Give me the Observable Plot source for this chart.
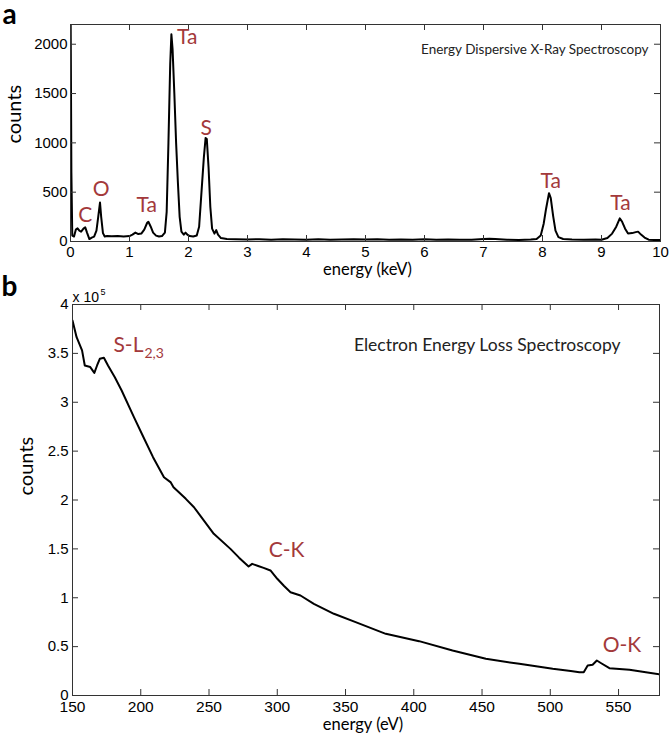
<!DOCTYPE html>
<html>
<head>
<meta charset="utf-8">
<script src="https://cdn.jsdelivr.net/npm/d3@7"></script>
<script src="https://cdn.jsdelivr.net/npm/@observablehq/plot@0.6"></script>
<style>
  html, body { margin: 0; padding: 0; background: white; }
  #wrap { width: 670px; height: 734px; }
  svg { display: block; }
</style>
</head>
<body>
<div id="wrap"><div id="pa"></div><div id="pb"></div></div>
<script>
// ---------- Panel a: EDX spectrum ----------
const edxEnergy = [0.000,0.015,0.03,0.06,0.09,0.12,0.15,0.18,0.22,0.25,0.28,0.32,0.36,0.40,0.44,0.47,0.50,0.52,0.55,0.58,
  0.62,0.70,0.80,0.90,1.00,1.05,1.10,1.15,1.20,1.25,1.30,1.32,1.36,1.40,1.45,1.50,1.55,1.60,1.63,1.66,1.69,1.71,1.73,1.76,
  1.79,1.82,1.85,1.88,1.92,1.95,1.98,2.02,2.08,2.14,2.18,2.22,2.26,2.29,2.31,2.34,2.37,2.40,2.44,2.47,2.50,2.55,2.65,2.80,
  3.0,3.2,3.4,3.6,3.8,4.0,4.2,4.4,4.6,4.8,5.0,5.2,5.4,5.6,5.8,6.0,6.2,6.4,6.6,6.8,7.0,7.1,7.2,7.4,7.6,7.8,7.9,7.97,8.02,
  8.06,8.11,8.14,8.18,8.22,8.27,8.35,8.5,8.7,8.9,9.0,9.1,9.18,9.25,9.31,9.35,9.40,9.45,9.52,9.58,9.62,9.67,9.73,9.8,9.9,10.0];
const edxCounts = [2600,700,60,50,120,133,110,99,130,143,90,25,40,50,110,250,395,250,85,50,
  55,52,55,50,55,70,90,75,80,120,190,200,150,90,60,50,55,90,300,1000,1800,2100,1950,1500,
  1000,600,250,100,70,90,70,55,50,60,150,500,850,1050,1040,750,350,130,80,115,70,35,25,22,
  20,24,18,22,20,17,22,18,21,24,20,22,18,20,17,22,19,21,17,18,25,28,25,18,16,20,25,60,180,
  330,490,440,260,110,45,25,20,18,20,18,35,80,150,235,200,130,80,85,95,100,70,40,18,15,15];
const edxXTicks = [0,1,2,3,4,5,6,7,8,9,10];
const edxYTicks = [0,500,1000,1500,2000];
const edxLabels = ["C","O","Ta","Ta","S","Ta","Ta"];
const edxLabelE = [0.25,0.52,1.29,1.98,2.30,8.14,9.32];
const edxLabelC = [269,532,365,2073,1151,613,390];

// ---------- Panel b: EELS spectrum ----------
const eelsEnergy = [150,153,157,159,163,166,168,170,173,176,181,186,195,202,209,217,222,224,233,239,253.5,265.7,
  272,279,281.6,286,290,295,300,305,309.7,317,326.8,341.5,357.4,379.5,403.9,428.4,452.8,477.3,501.8,515,521.3,
  524.5,527.4,531,534.1,537.3,543.3,558,570,580];
const eelsCounts = [383600,366600,353000,337600,336000,330000,337600,344500,345500,337600,325600,312000,284700,264200,
  243800,223300,218000,213000,201200,192600,165400,150000,141000,132000,134700,132500,130600,127900,119400,112000,
  105700,102300,93800,83600,75000,63100,55600,46000,37500,32400,27300,25000,23800,23800,30700,31500,35800,33000,
  28000,26300,23800,21600];
const eelsXTicks = [150,200,250,300,350,400,450,500,550];
const eelsYTicks = [0,50000,100000,150000,200000,250000,300000,350000,400000];
const eelsLabels = ["C-K","O-K"];
const eelsLabelE = [306.8,552.5];
const eelsLabelC = [148300,51100];

const RED = "#a3393b";
const LABEL_FONT = "Lato, 'Open Sans', sans-serif";
const TICK_FONT = "'Liberation Sans', Arial, sans-serif";

const edx = edxEnergy.map((e, i) => ({e, c: edxCounts[i]}));
const eels = eelsEnergy.map((e, i) => ({e, c: eelsCounts[i]}));
const edxLab = edxLabels.map((t, i) => ({t, e: edxLabelE[i], c: edxLabelC[i]}));
const eelsLab = eelsLabels.map((t, i) => ({t, e: eelsLabelE[i], c: eelsLabelC[i]}));

function inwardTicks(pw, ph, xInner, yInner) {
  const tl = 6, st = "#333";
  return [
    Plot.tickX(xInner, {x: d => d, insetTop: ph - tl, stroke: st}),
    Plot.tickX(xInner, {x: d => d, insetBottom: ph - tl, stroke: st}),
    Plot.tickY(yInner, {y: d => d, insetRight: pw - tl, stroke: st}),
    Plot.tickY(yInner, {y: d => d, insetLeft: pw - tl, stroke: st})
  ];
}

// Panel a geometry
const A = {w: 670, h: 280, mt: 24, ml: 70, mr: 10, mb: 39};
const Apw = A.w - A.ml - A.mr, Aph = A.h - A.mt - A.mb;
const plotA = Plot.plot({
  width: A.w, height: A.h,
  marginTop: A.mt, marginLeft: A.ml, marginRight: A.mr, marginBottom: A.mb,
  style: {fontFamily: TICK_FONT, fontSize: "15px", color: "black", background: "white", overflow: "visible"},
  x: {domain: [0, 10]},
  y: {domain: [0, 2200]},
  marks: [
    Plot.line(edx, {x: "e", y: "c", stroke: "black", strokeWidth: 2, clip: true}),
    ...inwardTicks(Apw, Aph, edxXTicks.slice(1, -1), edxYTicks.slice(1)),
    Plot.frame({stroke: "#333"}),
    Plot.axisX({ticks: edxXTicks, tickSize: 0, tickPadding: 5, label: null, fontSize: 15, tickFormat: d => String(d)}),
    Plot.axisY({ticks: edxYTicks, tickSize: 0, tickPadding: 3, label: null, fontSize: 15, tickFormat: d => String(d)}),
    Plot.text(edxLab, {x: "e", y: "c", text: "t", fill: RED, fontSize: 21, fontFamily: LABEL_FONT, lineAnchor: "middle"}),
    Plot.text(["Energy Dispersive X-Ray Spectroscopy"], {frameAnchor: "top-right", text: d => d, textAnchor: "end", lineAnchor: "middle", dx: -12, dy: 25, fontSize: 13.5, fontFamily: LABEL_FONT, fill: "#222"}),
    Plot.text(["counts"], {frameAnchor: "left", text: d => d, rotate: -90, dx: 14 - A.ml, dy: 143 - (A.mt + Aph / 2), fontSize: 20, fontFamily: LABEL_FONT, lineAnchor: "middle", fill: "black"}),
    Plot.text(["energy (keV)"], {frameAnchor: "bottom", text: d => d, dy: 28, dx: 2, fontSize: 16.5, fontFamily: LABEL_FONT, lineAnchor: "middle", fill: "black"}),
    Plot.text(["a"], {frameAnchor: "top-left", text: d => d, textAnchor: "start", lineAnchor: "middle", dx: 2 - A.ml, dy: -9, fontSize: 28, fontWeight: "bold", fontFamily: LABEL_FONT, fill: "black"})
  ]
});
document.getElementById("pa").append(plotA);

// Panel b geometry
const B = {w: 670, h: 454, mt: 24, ml: 72, mr: 11, mb: 39};
const Bpw = B.w - B.ml - B.mr, Bph = B.h - B.mt - B.mb;
const plotB = Plot.plot({
  width: B.w, height: B.h,
  marginTop: B.mt, marginLeft: B.ml, marginRight: B.mr, marginBottom: B.mb,
  style: {fontFamily: TICK_FONT, fontSize: "15px", color: "black", background: "white", overflow: "visible"},
  x: {domain: [150, 580]},
  y: {domain: [0, 400000]},
  marks: [
    Plot.line(eels, {x: "e", y: "c", stroke: "black", strokeWidth: 2, clip: true}),
    ...inwardTicks(Bpw, Bph, eelsXTicks.slice(1), eelsYTicks.slice(1, -1)),
    Plot.frame({stroke: "#333"}),
    Plot.axisX({ticks: eelsXTicks, tickSize: 0, tickPadding: 5, label: null, fontSize: 15.5, tickFormat: d => String(d)}),
    Plot.axisY({ticks: eelsYTicks, tickSize: 0, tickPadding: 4, label: null, tickFormat: d => String(d / 1e5), fontSize: 15}),
    Plot.text(eelsLab, {x: "e", y: "c", text: "t", fill: RED, fontSize: 21, fontFamily: LABEL_FONT, lineAnchor: "middle"}),
    Plot.text(["S-L"], {x: () => 180, y: () => 358000, text: d => d, textAnchor: "start", fill: RED, fontSize: 21, fontFamily: LABEL_FONT, lineAnchor: "middle"}),
    Plot.text(["2,3"], {x: () => 180, y: () => 358000, text: d => d, textAnchor: "start", dx: 31, dy: 8, fill: RED, fontSize: 14, fontFamily: LABEL_FONT, lineAnchor: "middle"}),
    Plot.text(["Electron Energy Loss Spectroscopy"], {frameAnchor: "top-right", text: d => d, textAnchor: "end", lineAnchor: "middle", dx: -39, dy: 41, fontSize: 17.5, fontFamily: LABEL_FONT, fill: "#222"}),
    Plot.text(["counts"], {frameAnchor: "left", text: d => d, rotate: -90, dx: 26 - B.ml, dy: -4.5, fontSize: 20, fontFamily: LABEL_FONT, lineAnchor: "middle", fill: "black"}),
    Plot.text(["energy (eV)"], {frameAnchor: "bottom", text: d => d, dy: 29, dx: -3, fontSize: 16.5, fontFamily: LABEL_FONT, lineAnchor: "middle", fill: "black"}),
    Plot.text(["x 10"], {frameAnchor: "top-left", text: d => d, textAnchor: "start", lineAnchor: "bottom", dx: 0, dy: -3, fontSize: 14, fontFamily: TICK_FONT, fill: "black"}),
    Plot.text(["5"], {frameAnchor: "top-left", text: d => d, textAnchor: "start", lineAnchor: "bottom", dx: 28, dy: -10, fontSize: 9, fontFamily: TICK_FONT, fill: "black"}),
    Plot.text(["b"], {frameAnchor: "top-left", text: d => d, textAnchor: "start", lineAnchor: "middle", dx: 1 - B.ml, dy: -17, fontSize: 28, fontWeight: "bold", fontFamily: LABEL_FONT, fill: "black"})
  ]
});
document.getElementById("pb").append(plotB);
</script>
</body>
</html>
